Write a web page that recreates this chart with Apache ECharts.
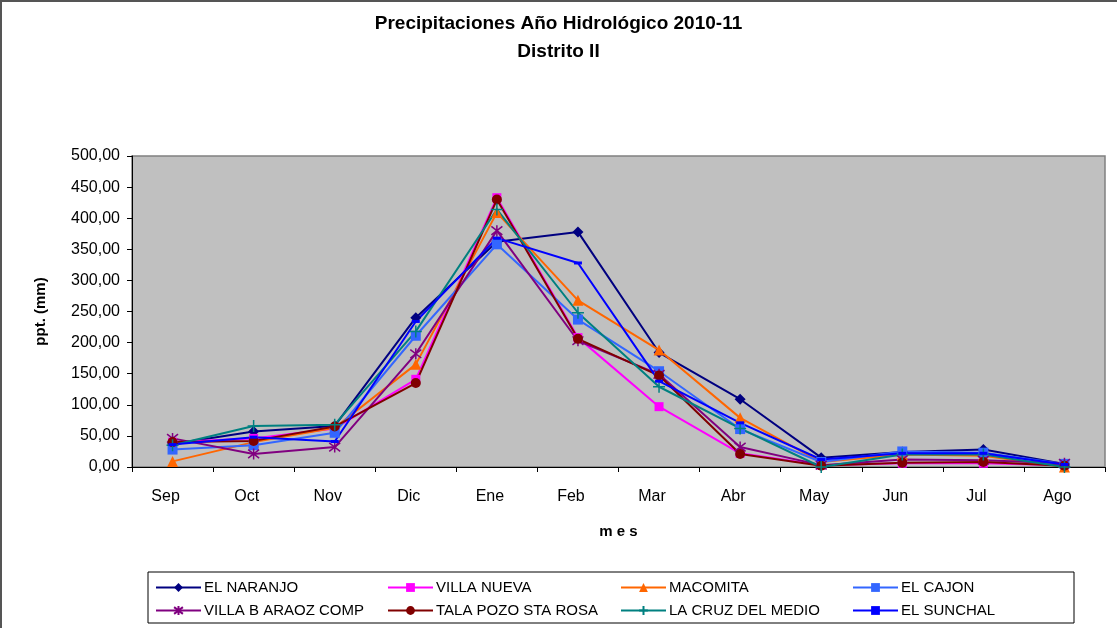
<!DOCTYPE html>
<html>
<head>
<meta charset="utf-8">
<script src="https://cdn.jsdelivr.net/npm/echarts@6/dist/echarts.min.js"></script>
<style>html,body{margin:0;padding:0;background:#fff;}#c{width:1117px;height:628px;}</style>
</head>
<body>
<div id="c"></div>
<script>
const months = ['Sep','Oct','Nov','Dic','Ene','Feb','Mar','Abr','May','Jun','Jul','Ago'];
const yTicks = [0,50,100,150,200,250,300,350,400,450,500];

const elNaranjo     = [37, 57, 66, 240, 362, 378, 184, 109, 15, 24, 28, 5];
const villaNueva    = [40, 46, 62, 141, 433, 208, 97, 22, 3, 6, 6, 3];
const macomita      = [9, 40, 63, 165, 409, 268, 188, 79, 8, 20, 18, 0];
const elCajon       = [28, 35, 55, 211, 358, 237, 154, 61, 8, 25, 23, 5];
const villaBAraoz   = [46, 21, 32, 182, 380, 203, 149, 32, 3, 12, 11, 6];
const talaPozo      = [40, 42, 65, 135, 430, 206, 147, 21, 2, 7, 8, 2];
const laCruz        = [35, 66, 68, 218, 414, 248, 129, 62, 0, 20, 20, 0];
const elSunchal     = [36, 48, 41, 234, 368, 328, 138, 71, 12, 22, 22, 4];

const names = ['EL NARANJO','VILLA NUEVA','MACOMITA','EL CAJON','VILLA B ARAOZ COMP','TALA POZO STA ROSA','LA CRUZ DEL MEDIO','EL SUNCHAL'];
const values = [elNaranjo, villaNueva, macomita, elCajon, villaBAraoz, talaPozo, laCruz, elSunchal];
const colors = ['#000080','#FF00FF','#FF6600','#3366FF','#800080','#800000','#008080','#0000FF'];
const asterisk = 'path://M-1,-1L1,1M-1,1L1,-1M0,-1.3L0,1.3';
const plus = 'path://M0,-1L0,1M-1,0L1,0';
const symbols = ['diamond','rect','triangle','rect',asterisk,'circle',plus,'rect'];
const sizes = [11,9,11,10,11,10,12,[8,3]];

const series = names.map((n,i)=>{
  const stroke = (i===4||i===6);
  return {
    name:n, type:'line', data:values[i], symbol:symbols[i], symbolSize:sizes[i],
    lineStyle:{color:colors[i], width:2},
    itemStyle: stroke ? {color:'none', borderColor:colors[i], borderWidth:1.5} : {color:colors[i], borderWidth:0},
    emphasis:{disabled:true}, animation:false
  };
});

const legendPos = [[155,580],[387,580],[620,580],[852,580],[155,603],[387,603],[620,603],[852,603]];
const legends = names.map((n,i)=>({
  data:[n], left:legendPos[i][0], top:legendPos[i][1], padding:0,
  itemWidth:45, itemHeight:11, selectedMode:false,
  textStyle:{fontFamily:'Liberation Sans', fontSize:15, color:'#000', padding:[0,0,0,-2]}
}));

const chart = echarts.init(document.getElementById('c'));
chart.setOption({
  animation:false,
  backgroundColor:'#fff',
  title:{
    text:'Precipitaciones Año Hidrológico 2010-11\nDistrito II',
    left:'center', top:5,
    textStyle:{fontFamily:'Liberation Sans', fontWeight:'bold', fontSize:19, lineHeight:28, color:'#000'}
  },
  graphic:[
    {type:'rect', shape:{x:1,y:1,width:1130,height:640}, style:{fill:'none', stroke:'#555', lineWidth:2}, silent:true, z:-1},
    {type:'rect', shape:{x:148,y:572,width:926,height:51}, style:{fill:'#fff', stroke:'#000', lineWidth:1}, silent:true, z:-1}
  ],
  legend:legends,
  grid:{left:132, top:156, width:973, height:311, show:true, backgroundColor:'#C0C0C0', borderColor:'#808080', borderWidth:1.5},
  xAxis:{
    type:'category', data:months, boundaryGap:true,
    name:'m e s', nameLocation:'middle', nameGap:57,
    nameTextStyle:{fontFamily:'Liberation Sans', fontWeight:'bold', fontSize:15, color:'#000'},
    axisLine:{lineStyle:{color:'#000', width:1}},
    axisTick:{show:true, alignWithLabel:false, length:5, lineStyle:{color:'#000'}},
    axisLabel:{fontFamily:'Liberation Sans', fontSize:16, color:'#000', margin:22, padding:[0,14,0,0]},
    splitLine:{show:false}
  },
  yAxis:{
    type:'value', min:yTicks[0], max:yTicks[yTicks.length-1], interval:50,
    name:'ppt. (mm)', nameLocation:'middle', nameGap:84,
    nameTextStyle:{fontFamily:'Liberation Sans', fontWeight:'bold', fontSize:15, color:'#000'},
    axisLine:{show:true, lineStyle:{color:'#000', width:1}},
    axisTick:{show:true, length:5, lineStyle:{color:'#000'}},
    axisLabel:{fontFamily:'Liberation Sans', fontSize:16, color:'#000', margin:12,
      formatter:v=>v.toFixed(2).replace('.',',')},
    splitLine:{show:false}
  },
  series:series
});
</script>
</body>
</html>
